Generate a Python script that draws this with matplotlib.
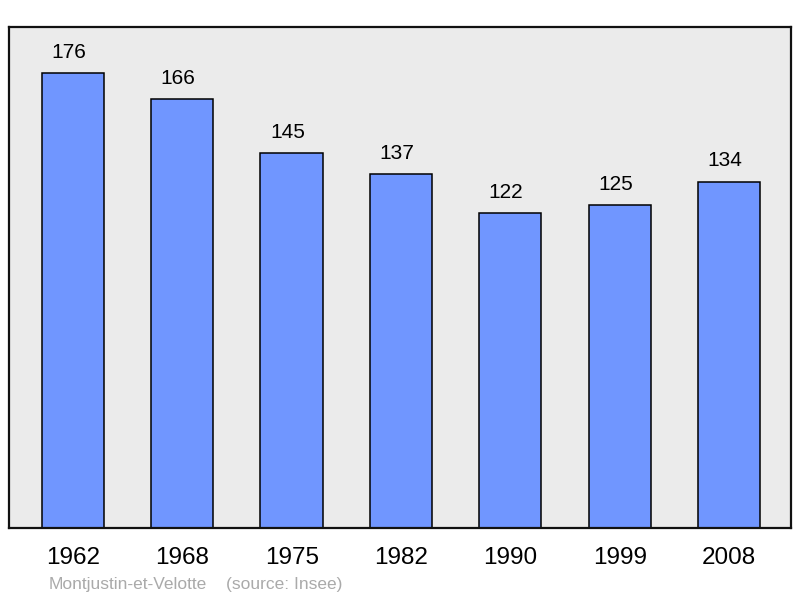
import matplotlib
matplotlib.use("Agg")
from matplotlib import pyplot as plt

years = ['1962', '1968', '1975', '1982', '1990', '1999', '2008']
population = [176, 166, 145, 137, 122, 125, 134]

plt.rcParams['font.family'] = ['Liberation Sans', 'DejaVu Sans']

fig = plt.figure(figsize=(8, 5.98), dpi=100)
ax = fig.add_axes([9 / 800, 1 - 528 / 598, 782 / 800, 501 / 598])
ax.set_facecolor('#ebebeb')

positions = range(len(years))
bars = ax.bar(positions, population, width=0.57, color='#7096ff',
              edgecolor='black', linewidth=1.1)

# labels sit a little left of the bar centre, as in the original
for x, v in zip(positions, population):
    ax.annotate(str(v), (x, v), xytext=(-3, 8), textcoords='offset points',
                ha='center', va='bottom', fontsize=15)

ax.set_xlim(-0.585, 6.567)
ax.set_ylim(0, 193.8)
ax.set_yticks([])
ax.set_xticks(list(positions))
ax.set_xticklabels(years, fontsize=17.5)
ax.tick_params(axis='x', length=0, pad=13.5)
for s in ax.spines.values():
    s.set_linewidth(1.6)
    s.set_color('#111111')

fig.text(49 / 800, 1 - 585 / 598, 'Montjustin-et-Velotte', color='#aaaaaa',
         fontsize=12.5, va='center')
fig.text(226 / 800, 1 - 585 / 598, '(source: Insee)', color='#aaaaaa',
         fontsize=12.5, va='center')

fig.savefig('out.png', dpi=100)
